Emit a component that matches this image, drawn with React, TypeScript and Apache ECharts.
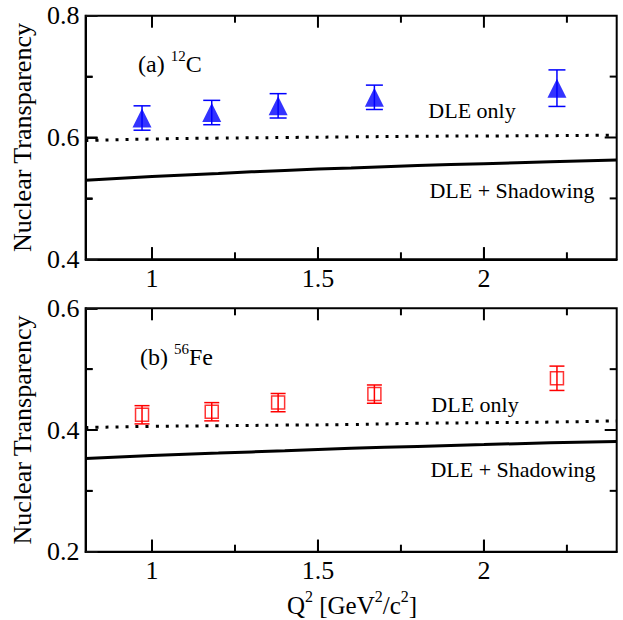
import React, { useEffect, useRef } from "react";
import * as echarts from "echarts";

// Data
const cX = [0.97, 1.18, 1.38, 1.67, 2.22];
const cY = [0.632, 0.641, 0.652, 0.666, 0.681];
const cErr = [0.02, 0.02, 0.02, 0.02, 0.03];

const feX = [0.97, 1.18, 1.38, 1.67, 2.22];
const feY = [0.425, 0.430, 0.445, 0.459, 0.485];
const feErr = [0.015, 0.015, 0.015, 0.015, 0.02];

const curveX = [0.8, 1.0, 1.2, 1.4, 1.6, 1.8, 2.0, 2.2, 2.4];
const dleC = [0.595, 0.5975, 0.599, 0.600, 0.601, 0.602, 0.6025, 0.603, 0.604];
const shadC = [0.530, 0.536, 0.541, 0.546, 0.550, 0.554, 0.557, 0.560, 0.563];
const dleFe = [0.404, 0.406, 0.407, 0.408, 0.409, 0.411, 0.412, 0.413, 0.415];
const shadFe = [0.353, 0.358, 0.362, 0.366, 0.370, 0.373, 0.376, 0.379, 0.381];

// Tick values
const xMajor = [1, 1.5, 2];
const xMinor = [1.25, 1.75, 2.25];
const yMajorC = [0.6];
const yMinorC = [0.5, 0.7];
const yMajorFe = [0.4];
const yMinorFe = [0.3, 0.5];

const FONT = "'Liberation Serif', 'Times New Roman', serif";
const X_MIN = 0.8;
const X_MAX = 2.4;
const MAJOR_LEN = 12;
const MINOR_LEN = 7;

function xAxis(gridIndex: number) {
  return {
    type: "value",
    gridIndex,
    position: "bottom",
    min: X_MIN,
    max: X_MAX,
    splitLine: { show: false },
    axisLine: { show: true, onZero: false, lineStyle: { color: "#000", width: 2 } },
    axisTick: { show: true, inside: true, length: MAJOR_LEN, customValues: xMajor, lineStyle: { color: "#111", width: 2 } },
    axisLabel: {
      show: true,
      customValues: xMajor,
      margin: 6,
      color: "#000",
      fontSize: 26,
      fontFamily: FONT,
      formatter: (v: number) => String(v),
    },
  };
}

function yAxis(gridIndex: number, min: number, max: number) {
  return {
    type: "value",
    gridIndex,
    position: "left",
    min,
    max,
    interval: 0.2,
    splitLine: { show: false },
    axisLine: { show: true, onZero: false, lineStyle: { color: "#000", width: 2 } },
    axisTick: { show: true, inside: true, length: MAJOR_LEN, lineStyle: { color: "#111", width: 2 } },
    minorTick: { show: true, splitNumber: 2, length: MINOR_LEN, lineStyle: { color: "#111", width: 2 } },
    axisLabel: {
      show: true,
      margin: 6,
      color: "#000",
      fontSize: 26,
      fontFamily: FONT,
      formatter: (v: number) => v.toFixed(1),
    },
    name: "Nuclear Transparency",
    nameLocation: "middle",
    nameGap: 50,
    nameTextStyle: { fontSize: 26, fontFamily: FONT, color: "#000" },
  };
}

// Inward ticks on all four sides, placed through the axes' own scales
function tickSeries(idx: number, yMin: number, yMaj: number[], yMin2: number[]) {
  const data: number[][] = [
    ...xMajor.map((v) => [v, yMin, MAJOR_LEN, 0]),
    ...xMinor.map((v) => [v, yMin, MINOR_LEN, 0]),
    ...yMaj.map((v) => [X_MIN, v, MAJOR_LEN, 1]),
    ...yMin2.map((v) => [X_MIN, v, MINOR_LEN, 1]),
  ];
  return {
    type: "custom",
    xAxisIndex: idx,
    yAxisIndex: idx,
    z: 1,
    data,
    dimensions: ["x", "y", "len", "kind"],
    encode: { x: 0, y: 1 },
    renderItem: (params: any, api: any) => {
      const cs = params.coordSys;
      const len = api.value(2);
      const kind = api.value(3);
      const p = api.coord([api.value(0), api.value(1)]);
      const st = { stroke: "#000", lineWidth: 2 };
      if (kind === 0) {
        const bottom = cs.y + cs.height;
        const top = cs.y;
        return {
          type: "group",
          children: [
            { type: "line", shape: { x1: p[0], y1: bottom, x2: p[0], y2: bottom - len }, style: st },
            { type: "line", shape: { x1: p[0], y1: top, x2: p[0], y2: top + len }, style: st },
          ],
        };
      }
      const left = cs.x;
      const right = cs.x + cs.width;
      return {
        type: "group",
        children: [
          { type: "line", shape: { x1: left, y1: p[1], x2: left + len, y2: p[1] }, style: st },
          { type: "line", shape: { x1: right, y1: p[1], x2: right - len, y2: p[1] }, style: st },
        ],
      };
    },
  };
}

function errorSeries(xs: number[], ys: number[], es: number[], idx: number, color: string, cap: number, z: number) {
  return {
    type: "custom",
    xAxisIndex: idx,
    yAxisIndex: idx,
    z,
    data: xs.map((x, i) => [x, ys[i], es[i]]),
    encode: { x: 0, y: 1 },
    renderItem: (params: any, api: any) => {
      const x = api.value(0);
      const y = api.value(1);
      const e = api.value(2);
      const t = api.coord([x, y + e]);
      const b = api.coord([x, y - e]);
      const hw = cap / 2;
      const st = { stroke: color, lineWidth: 1.5 };
      return {
        type: "group",
        children: [
          { type: "line", shape: { x1: t[0], y1: t[1], x2: b[0], y2: b[1] }, style: st },
          { type: "line", shape: { x1: t[0] - hw, y1: t[1], x2: t[0] + hw, y2: t[1] }, style: st },
          { type: "line", shape: { x1: b[0] - hw, y1: b[1], x2: b[0] + hw, y2: b[1] }, style: st },
        ],
      };
    },
  };
}

function curve(ys: number[], idx: number, dotted: boolean) {
  return {
    type: "line",
    xAxisIndex: idx,
    yAxisIndex: idx,
    smooth: true,
    symbol: "none",
    z: 2,
    data: curveX.map((x, i) => [x, ys[i]]),
    lineStyle: dotted
      ? { color: "#000", width: 3, type: [3, 7] }
      : { color: "#000", width: 3, type: "solid" },
  };
}

function richText(x: number, y: number, text: string, rich: any, align = "left") {
  return {
    type: "text",
    x,
    y,
    style: {
      text,
      rich,
      textAlign: align,
      textVerticalAlign: "middle",
      fill: "#000",
      fontFamily: FONT,
    },
  };
}

const mRich = (size: number) => ({
  m: { fontSize: size, fontFamily: FONT, color: "#000", lineHeight: size + 4, verticalAlign: "bottom" },
  s: { fontSize: Math.round(size * 0.64), fontFamily: FONT, color: "#000", verticalAlign: "top" },
});

export default function App() {
  const ref = useRef<HTMLDivElement>(null);
  useEffect(() => {
    if (!ref.current) return;
    const chart = echarts.init(ref.current, undefined, { renderer: "svg" });
    const option: any = {
      animation: false,
      backgroundColor: "#fff",
      textStyle: { fontFamily: FONT },
      grid: [
        { left: 85.6, right: 6.3, top: 15.7, height: 243.6, show: true, borderColor: "#000", borderWidth: 2 },
        { left: 85.6, right: 6.3, top: 308.3, height: 243.4, show: true, borderColor: "#000", borderWidth: 2 },
      ],
      xAxis: [xAxis(0), xAxis(1)],
      yAxis: [yAxis(0, 0.4, 0.8), yAxis(1, 0.2, 0.6)],
      series: [
        tickSeries(0, 0.4, yMajorC, yMinorC),
        tickSeries(1, 0.2, yMajorFe, yMinorFe),
        curve(dleC, 0, true),
        curve(shadC, 0, false),
        errorSeries(cX, cY, cErr, 0, "#0000ff", 17, 3),
        {
          type: "scatter",
          xAxisIndex: 0,
          yAxisIndex: 0,
          z: 4,
          symbol: "triangle",
          symbolSize: 19,
          itemStyle: { color: "#0000ff" },
          data: cX.map((x, i) => [x, cY[i]]),
        },
        curve(dleFe, 1, true),
        curve(shadFe, 1, false),
        {
          type: "scatter",
          xAxisIndex: 1,
          yAxisIndex: 1,
          z: 3,
          symbol: "rect",
          symbolSize: 13,
          itemStyle: { color: "rgba(0,0,0,0)", borderColor: "#ff0000", borderWidth: 1.5 },
          data: feX.map((x, i) => [x, feY[i]]),
        },
        errorSeries(feX, feY, feErr, 1, "#ff0000", 15, 4),
      ],
      graphic: [
        richText(138, 62, "{m|(a) }{s|12}{m|C}", mRich(24)),
        richText(140, 355, "{m|(b) }{s|56}{m|Fe}", mRich(24)),
        richText(472, 108, "{m|DLE only}", mRich(22), "center"),
        richText(512, 188, "{m|DLE + Shadowing}", mRich(22), "center"),
        richText(475, 402, "{m|DLE only}", mRich(22), "center"),
        richText(513, 467, "{m|DLE + Shadowing}", mRich(22), "center"),
        richText(352, 603, "{m|Q}{s|2}{m| [GeV}{s|2}{m|/c}{s|2}{m|]}", mRich(25), "center"),
      ],
    };
    chart.setOption(option);
    return () => chart.dispose();
  }, []);
  return (
    <div
      ref={ref}
      style={{ position: "fixed", left: 0, top: 0, width: 623, height: 620, background: "#fff" }}
    />
  );
}
